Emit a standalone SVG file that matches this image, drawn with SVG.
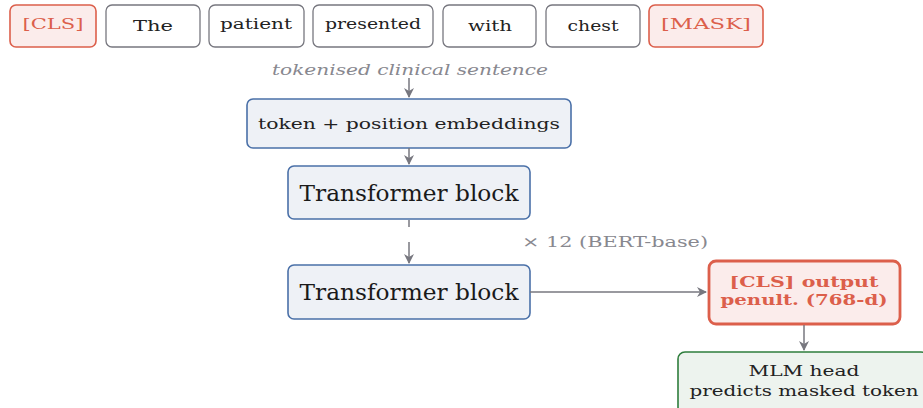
<svg xmlns="http://www.w3.org/2000/svg" width="923" height="408" viewBox="0 0 923 408">
<defs>
<marker id="ah" viewBox="0 0 10 10" refX="9" refY="5" markerWidth="10" markerHeight="10" markerUnits="userSpaceOnUse" orient="auto">
<path d="M0,0 L10,5 L0,10 L3,5 Z" fill="#77777f"/>
</marker>
</defs>
<style>
text{font-family:"DejaVu Serif","Liberation Serif",serif;text-anchor:middle}
.tok{fill:#fff;stroke:#77777f;stroke-width:1.3}
.red{fill:#fbeceb;stroke:#dc5f4b;stroke-width:1.6}
.redb{fill:#fbeceb;stroke:#dc5f4b;stroke-width:2.8}
.blue{fill:#eef1f6;stroke:#4a70a8;stroke-width:1.6}
.green{fill:#edf3ee;stroke:#2e7d3c;stroke-width:1.6}
.tt{font-size:15px;fill:#222}
.rt{font-size:15px;fill:#dc5f4b}
.grey{fill:#88888f}
.ln{stroke:#77777f;stroke-width:1.5;fill:none}
</style>
<g id="tok-cls"><rect class="red" x="10" y="5" width="86" height="42" rx="6"/><text class="rt" x="53" y="29" textLength="61" lengthAdjust="spacingAndGlyphs">[CLS]</text></g>
<g id="tok-the"><rect class="tok" x="106" y="5" width="94" height="42" rx="6"/><text class="tt" x="153" y="31" textLength="40" lengthAdjust="spacingAndGlyphs">The</text></g>
<g id="tok-patient"><rect class="tok" x="209" y="5" width="95" height="42" rx="6"/><text class="tt" x="256" y="29" textLength="72" lengthAdjust="spacingAndGlyphs">patient</text></g>
<g id="tok-presented"><rect class="tok" x="313" y="5" width="120" height="42" rx="6"/><text class="tt" x="373" y="29" textLength="96" lengthAdjust="spacingAndGlyphs">presented</text></g>
<g id="tok-with"><rect class="tok" x="443" y="5" width="93" height="42" rx="6"/><text class="tt" x="490" y="31" textLength="44" lengthAdjust="spacingAndGlyphs">with</text></g>
<g id="tok-chest"><rect class="tok" x="546" y="5" width="94" height="42" rx="6"/><text class="tt" x="593" y="31" textLength="51" lengthAdjust="spacingAndGlyphs">chest</text></g>
<g id="tok-mask"><rect class="red" x="649" y="5" width="114" height="42" rx="6"/><text class="rt" x="706" y="29" textLength="90" lengthAdjust="spacingAndGlyphs">[MASK]</text></g>
<text class="grey" x="410" y="75" style="font-size:14.5px;font-style:italic" textLength="276" lengthAdjust="spacingAndGlyphs">tokenised clinical sentence</text>
<g id="embed"><rect class="blue" x="247" y="99" width="324" height="49" rx="6"/><text class="tt" x="409" y="129" textLength="302" lengthAdjust="spacingAndGlyphs">token + position embeddings</text></g>
<g id="tb1"><rect class="blue" x="288" y="166" width="242" height="53" rx="6"/><text x="409" y="201" style="font-size:22px;fill:#1a1a1a" textLength="219" lengthAdjust="spacingAndGlyphs">Transformer block</text></g>
<g id="tb2"><rect class="blue" x="288" y="265" width="242" height="54" rx="6"/><text x="409" y="300" style="font-size:22px;fill:#1a1a1a" textLength="219" lengthAdjust="spacingAndGlyphs">Transformer block</text></g>
<text class="grey" x="615" y="247" style="font-size:14.5px" textLength="186" lengthAdjust="spacingAndGlyphs">× 12 (BERT-base)</text>
<g id="cls-out"><rect class="redb" x="709" y="261" width="191" height="63" rx="7"/><text class="rt" x="804" y="287" style="font-weight:bold;font-size:15px" textLength="149" lengthAdjust="spacingAndGlyphs">[CLS] output</text><text class="rt" x="804" y="305" style="font-weight:bold;font-size:15px" textLength="167" lengthAdjust="spacingAndGlyphs">penult. (768-d)</text></g>
<g id="mlm"><rect class="green" x="678" y="352" width="250" height="62" rx="7"/><text class="tt" x="804" y="376" textLength="111" lengthAdjust="spacingAndGlyphs">MLM head</text><text class="tt" x="804" y="396" textLength="229" lengthAdjust="spacingAndGlyphs">predicts masked token</text></g>
<g id="connectors">
<line class="ln" x1="409" y1="78" x2="409" y2="97" marker-end="url(#ah)"/>
<line class="ln" x1="409" y1="148" x2="409" y2="164" marker-end="url(#ah)"/>
<line class="ln" x1="409" y1="220" x2="409" y2="232" stroke-dasharray="7,5"/>
<line class="ln" x1="409" y1="242" x2="409" y2="263" marker-end="url(#ah)"/>
<line class="ln" x1="530" y1="292" x2="706" y2="292" marker-end="url(#ah)"/>
<line class="ln" x1="804" y1="325" x2="804" y2="350" marker-end="url(#ah)"/>
</g>
</svg>
